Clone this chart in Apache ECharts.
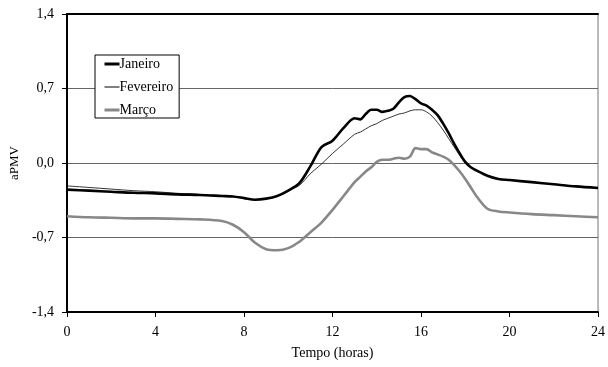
<!DOCTYPE html>
<html><head><meta charset="utf-8">
<script src="https://cdn.jsdelivr.net/npm/echarts@6/dist/echarts.min.js"></script>
<style>html,body{margin:0;padding:0;background:#fff}#c{width:608px;height:367px}</style>
</head><body><div id="c"></div>
<script>
const hours = [0,1,2,3,4,5,6,7,7.5,8,8.5,9,9.5,10,10.5,11,11.5,12,12.5,13,13.25,13.5,13.75,14,14.25,14.5,14.75,15,15.25,15.5,15.75,16,16.25,16.5,16.75,17,17.25,17.5,17.75,18,18.25,18.5,19,19.5,20,21,22,23,24];
const janeiro = [-0.25,-0.26,-0.27,-0.28,-0.285,-0.295,-0.30,-0.31,-0.315,-0.33,-0.345,-0.335,-0.31,-0.26,-0.19,-0.03,0.15,0.21,0.33,0.42,0.41,0.46,0.50,0.50,0.48,0.49,0.51,0.57,0.62,0.63,0.60,0.56,0.54,0.50,0.45,0.37,0.28,0.18,0.09,0.01,-0.04,-0.07,-0.12,-0.15,-0.16,-0.18,-0.20,-0.22,-0.235];
const fevereiro = [-0.215,-0.23,-0.245,-0.26,-0.27,-0.285,-0.295,-0.31,-0.315,-0.33,-0.345,-0.335,-0.31,-0.26,-0.21,-0.10,-0.01,0.09,0.18,0.27,0.29,0.32,0.35,0.37,0.40,0.42,0.44,0.46,0.47,0.49,0.50,0.50,0.48,0.44,0.38,0.31,0.23,0.15,0.07,0.00,-0.04,-0.07,-0.12,-0.15,-0.16,-0.18,-0.20,-0.22,-0.235];
const marco = [-0.50,-0.51,-0.515,-0.52,-0.52,-0.525,-0.53,-0.545,-0.58,-0.65,-0.75,-0.81,-0.82,-0.80,-0.74,-0.65,-0.56,-0.44,-0.31,-0.18,-0.13,-0.08,-0.04,0.01,0.03,0.03,0.04,0.05,0.04,0.06,0.14,0.13,0.13,0.10,0.08,0.06,0.03,-0.02,-0.08,-0.15,-0.23,-0.31,-0.43,-0.455,-0.465,-0.48,-0.49,-0.50,-0.51];
const seriesNames = ['Janeiro','Fevereiro','Março'];
const xTitle = 'Tempo (horas)';
const yTitle = 'aPMV';

const font = 'Liberation Serif';
const colors = ['#000','#000','#888'];
const widths = [2.6,0.8,2.6];
const legendWidths = [3,1,3];
const pair = (arr) => hours.map((h,i)=>[h,arr[i]]);
const chart = echarts.init(document.getElementById('c'), null, {renderer:'canvas'});
chart.setOption({
  animation:false,
  textStyle:{fontFamily:font},
  grid:{left:67,top:14,right:10,bottom:55,show:true,borderColor:'#777',borderWidth:1,backgroundColor:'transparent'},
  legend:{
    orient:'vertical', left:95, top:55, padding:[2,6,1,8],
    borderColor:'#000', borderWidth:1, backgroundColor:'#fff',
    itemWidth:15, itemHeight:14, itemGap:9,
    itemStyle:{opacity:0},
    textStyle:{fontFamily:font,fontSize:14,color:'#000',padding:[0,0,0,-5]},
    data:seriesNames.map((n,i)=>({name:n,lineStyle:{color:colors[i],width:legendWidths[i]}}))
  },
  xAxis:[{
    type:'value', min:0, max:24, interval:4, position:'bottom',
    axisLine:{show:true,onZero:false,lineStyle:{color:'#000',width:2}},
    axisTick:{show:true,length:5,lineStyle:{color:'#000',width:1}},
    axisLabel:{fontFamily:font,fontSize:14,color:'#000',margin:13},
    splitLine:{show:false},
    name:xTitle, nameLocation:'middle', nameGap:34,
    nameTextStyle:{fontFamily:font,fontSize:14,color:'#000'}
  },{
    type:'value', min:0, max:24, position:'top',
    axisLine:{show:true,onZero:false,lineStyle:{color:'#000',width:2}},
    axisTick:{show:false}, axisLabel:{show:false}, splitLine:{show:false}
  }],
  yAxis:{
    type:'value', min:-1.4, max:1.4, interval:0.7,
    axisLine:{show:true,onZero:false,lineStyle:{color:'#000',width:2}},
    axisTick:{show:true,length:5,lineStyle:{color:'#000',width:1}},
    axisLabel:{fontFamily:font,fontSize:14,color:'#000',margin:13,
      formatter:(v)=>v.toFixed(1).replace('.',',')},
    splitLine:{show:true,lineStyle:{color:'#666',width:1}},
    name:yTitle, nameLocation:'middle', nameGap:41,
    nameTextStyle:{fontFamily:font,fontSize:13,color:'#000'}
  },
  series:seriesNames.map((n,i)=>({
    name:n,type:'line',data:pair([janeiro,fevereiro,marco][i]),symbol:'none',smooth:0.3,
    z:[4,5,3][i],lineStyle:{color:colors[i],width:widths[i]},itemStyle:{color:colors[i]}
  }))
});
</script></body></html>
